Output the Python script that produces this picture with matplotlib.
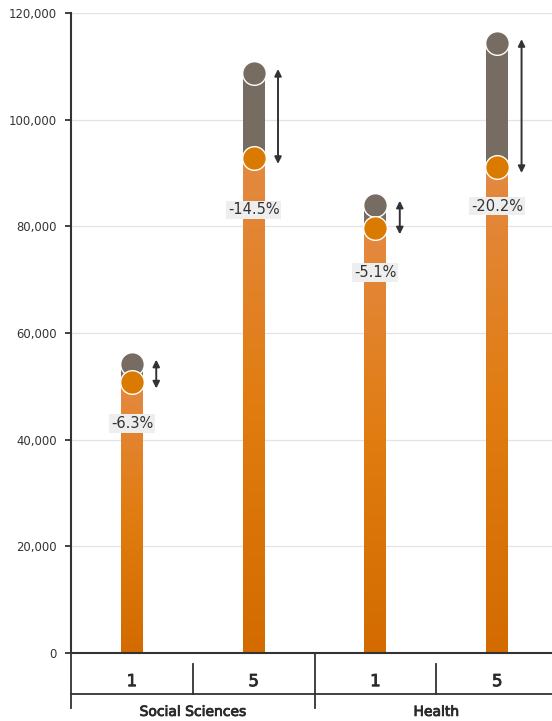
import numpy as np
import matplotlib
matplotlib.use("Agg")
import matplotlib.pyplot as plt
import matplotlib.patheffects as pe
from matplotlib.colors import LinearSegmentedColormap
from matplotlib.lines import Line2D
from matplotlib.transforms import blended_transform_factory

GROUPS = ["Social Sciences", "Health"]
YEARS = ["1", "5", "1", "5"]
BEFORE = [54200, 108700, 84000, 114300]   # grey dots
AFTER = [50800, 92900, 79700, 91200]      # orange dots
CHANGE = ["-6.3%", "-14.5%", "-5.1%", "-20.2%"]
Y_TICKS = [0, 20000, 40000, 60000, 80000, 100000, 120000]

# how far below the orange dot each change label sits (layout only)
LABEL_DROP = [7800, 9800, 8400, 7400]

GREY = "#776C61"
ORANGE = "#DA7A00"
INK = "#333333"

plt.rcParams["font.family"] = ["DejaVu Sans"]
heavy = [pe.withStroke(linewidth=0.6, foreground="#2A2A2A")]

fig = plt.figure(figsize=(5.52, 7.21), dpi=100)
ax = fig.add_axes([71 / 552, 68 / 721, 1 - 71 / 552, 640 / 721])

grad = LinearSegmentedColormap.from_list(
    "bar", [(0, "#D36B00"), (0.5, "#E07C10"), (1, "#E48942")])
w = 0.18
x = np.arange(len(BEFORE))
for xi, b, a, lab, drop in zip(x, BEFORE, AFTER, CHANGE, LABEL_DROP):
    # orange bar with vertical gradient
    ax.imshow(np.linspace(0, 1, 256).reshape(-1, 1), cmap=grad, origin="lower",
              extent=(xi - w / 2, xi + w / 2, 0, a), aspect="auto", zorder=2)
    ax.bar(xi, b - a, bottom=a, width=w, color=GREY, zorder=2)
    ax.scatter([xi], [b], s=290, color=GREY, edgecolor="white", lw=1, zorder=4)
    ax.scatter([xi], [a], s=290, color=ORANGE, edgecolor="white", lw=1, zorder=5)
    ax.annotate("", xy=(xi + 0.2, a - 1200), xytext=(xi + 0.2, b + 800),
                arrowprops=dict(arrowstyle="<|-|>,head_length=0.4,head_width=0.2",
                                color=INK, lw=1.4, shrinkA=0, shrinkB=0), zorder=6)
    ax.text(xi, a - drop, lab, ha="center", va="center", fontsize=10.5, color=INK,
            zorder=6, bbox=dict(boxstyle="square,pad=0.12", fc="#EEEEEE", ec="none"))

ax.set_xlim(-0.5, 3.45)
ax.set_ylim(0, 120000)
ax.set_yticks(Y_TICKS)
ax.set_yticklabels([f"{v:,}" for v in Y_TICKS], fontsize=8.4, color=INK)
ax.grid(axis="y", color="#E3E3E3", lw=0.9, zorder=0)
ax.set_axisbelow(True)
ax.set_xticks([])
ax.tick_params(axis="y", length=4, width=1.3, color=INK, pad=6)
for s in ("top", "right"):
    ax.spines[s].set_visible(False)
for s in ("left", "bottom"):
    ax.spines[s].set_color(INK)
    ax.spines[s].set_linewidth(1.5)

# category table below the axis
tr = blended_transform_factory(ax.transData, ax.transAxes)
kw = dict(transform=tr, color=INK, lw=1.3, clip_on=False)
for xd in (-0.5, 1.5):
    ax.add_line(Line2D([xd, xd], [0, -0.086], **kw))
for xd in (0.5, 2.5):
    ax.add_line(Line2D([xd, xd], [-0.017, -0.064], **kw))
ax.add_line(Line2D([-0.5, 3.45], [-0.064, -0.064], **kw))
for xi, yr in zip(x, YEARS):
    ax.text(xi, -0.044, yr, transform=tr, ha="center", va="center",
            fontsize=12, color="#2A2A2A", path_effects=heavy)
for gi, g in enumerate(GROUPS):
    ax.text(2 * gi + 0.5, -0.092, g, transform=tr, ha="center", va="center",
            fontsize=10, color="#2A2A2A", path_effects=heavy)

fig.savefig("out.png", dpi=100)
